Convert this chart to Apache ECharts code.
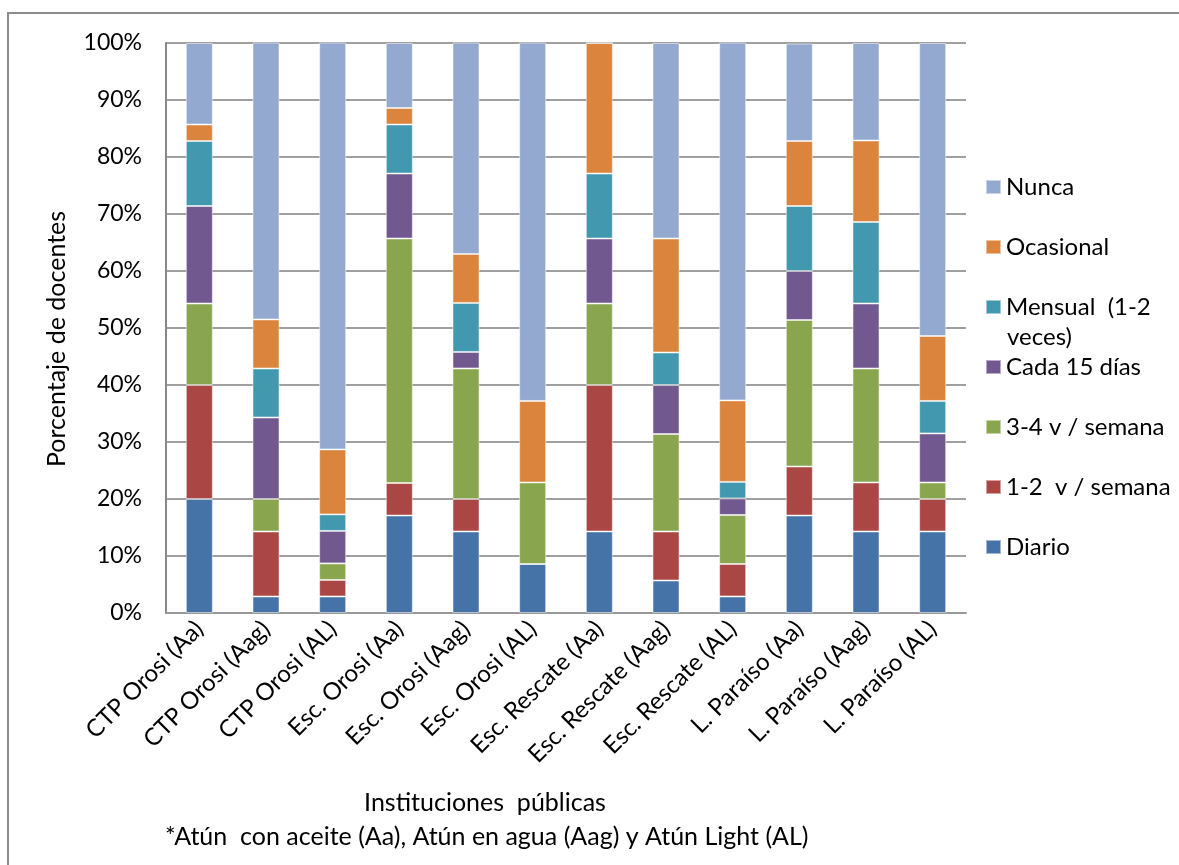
<!DOCTYPE html>
<html>
<head>
<meta charset="utf-8">
<script src="https://cdn.jsdelivr.net/npm/echarts@6/dist/echarts.min.js"></script>
<style>
  html, body { margin: 0; padding: 0; background: #fff; }
  #chart { width: 1179px; height: 865px; }
</style>
</head>
<body>
<div id="chart"></div>
<script>
// Institutions (tuna type in parentheses)
const categories = [
  'CTP Orosi (Aa)', 'CTP Orosi (Aag)', 'CTP Orosi (AL)',
  'Esc. Orosi (Aa)', 'Esc. Orosi (Aag)', 'Esc. Orosi (AL)',
  'Esc. Rescate (Aa)', 'Esc. Rescate (Aag)', 'Esc. Rescate (AL)',
  'L. Paraíso (Aa)', 'L. Paraíso (Aag)', 'L. Paraíso (AL)'
];

// Percentage of teachers per consumption frequency
const diario     = [20.0, 2.9, 2.9, 17.1, 14.3, 8.6, 14.3, 5.7, 2.9, 17.1, 14.3, 14.3];
const unoDos     = [20.0, 11.4, 2.9, 5.7, 5.7, 0, 25.7, 8.6, 5.7, 8.6, 8.6, 5.7];
const tresCuatro = [14.3, 5.7, 2.9, 42.9, 22.9, 14.3, 14.3, 17.1, 8.6, 25.7, 20.0, 2.9];
const cada15     = [17.1, 14.3, 5.7, 11.4, 2.9, 0, 11.4, 8.6, 2.9, 8.6, 11.4, 8.6];
const mensual    = [11.4, 8.6, 2.9, 8.6, 8.6, 0, 11.4, 5.7, 2.9, 11.4, 14.3, 5.7];
const ocasional  = [2.9, 8.6, 11.4, 2.9, 8.6, 14.3, 22.9, 20.0, 14.3, 11.4, 14.3, 11.4];
const nunca      = [14.3, 48.6, 71.4, 11.4, 37.1, 62.9, 0, 34.3, 62.9, 17.1, 17.1, 51.4];

const yTicks = ['0%', '10%', '20%', '30%', '40%', '50%', '60%', '70%', '80%', '90%', '100%'];

const seriesDefs = [
  { name: 'Diario',               data: diario,     color: '#4572A7' },
  { name: '1-2  v / semana',      data: unoDos,     color: '#AA4643' },
  { name: '3-4 v / semana',       data: tresCuatro, color: '#89A54E' },
  { name: 'Cada 15 días',         data: cada15,     color: '#71588F' },
  { name: 'Mensual  (1-2 veces)', data: mensual,    color: '#4198AF' },
  { name: 'Ocasional',            data: ocasional,  color: '#DB843D' },
  { name: 'Nunca',                data: nunca,      color: '#93A9CF' }
];

const FONT = 'Lato';
const chart = echarts.init(document.getElementById('chart'), null, { renderer: 'canvas' });

chart.setOption({
  animation: false,
  backgroundColor: '#fff',
  textStyle: { fontFamily: FONT, color: '#000' },
  grid: { left: 166, right: 213, top: 43, bottom: 252, containLabel: false },
  legend: {
    orient: 'vertical',
    left: 985,
    top: 175,
    padding: 0,
    itemWidth: 15,
    itemHeight: 14,
    itemGap: 36,
    icon: 'rect',
    data: seriesDefs.map(s => s.name).reverse(),
    formatter: name => name === 'Mensual  (1-2 veces)' ? 'Mensual  (1-2' : name,
    textStyle: { fontFamily: FONT, fontSize: 24, color: '#000', lineHeight: 24, padding: [0, 0, 0, 0] }
  },
  xAxis: {
    type: 'category',
    data: categories,
    axisLine: { lineStyle: { color: '#999', width: 2 } },
    axisTick: { show: false },
    axisLabel: {
      interval: 0,
      rotate: 45,
      margin: 12,
      fontFamily: FONT,
      fontSize: 24,
      color: '#000'
    }
  },
  yAxis: {
    type: 'value',
    min: 0,
    max: 100,
    interval: 10,
    axisLine: { show: true, lineStyle: { color: '#888', width: 2 } },
    axisTick: { show: false },
    splitLine: { lineStyle: { color: '#a0a0a0', width: 2 } },
    axisLabel: {
      margin: 24,
      fontFamily: FONT,
      fontSize: 23,
      color: '#000',
      formatter: v => yTicks[Math.round(v / 10)]
    }
  },
  series: seriesDefs.map(s => ({
    name: s.name,
    type: 'bar',
    stack: 'total',
    barWidth: 27,
    data: s.data,
    itemStyle: { color: s.color, borderColor: 'rgba(255,255,255,0.5)', borderWidth: 1 }
  })),
  graphic: [
    {
      type: 'rect',
      shape: { x: 8, y: 13, width: 1200, height: 900 },
      style: { fill: 'none', stroke: '#8c8c8c', lineWidth: 2 },
      silent: true
    },
    {
      type: 'text',
      left: 1007,
      top: 325,
      style: { text: 'veces)', font: '24px ' + FONT, fill: '#000' }
    },
    {
      type: 'text',
      x: 57,
      y: 339,
      rotation: Math.PI / 2,
      style: {
        text: 'Porcentaje de docentes',
        font: '25px ' + FONT,
        fill: '#000',
        align: 'center',
        verticalAlign: 'middle'
      }
    },
    {
      type: 'text',
      x: 485,
      y: 803,
      style: {
        text: 'Instituciones  públicas',
        font: '25px ' + FONT,
        fill: '#000',
        align: 'center',
        verticalAlign: 'middle'
      }
    },
    {
      type: 'text',
      x: 165,
      y: 837,
      style: {
        text: '*Atún  con aceite (Aa), Atún en agua (Aag) y Atún Light (AL)',
        font: '25px ' + FONT,
        fill: '#000',
        align: 'left',
        verticalAlign: 'middle'
      }
    }
  ]
});
</script>
</body>
</html>
